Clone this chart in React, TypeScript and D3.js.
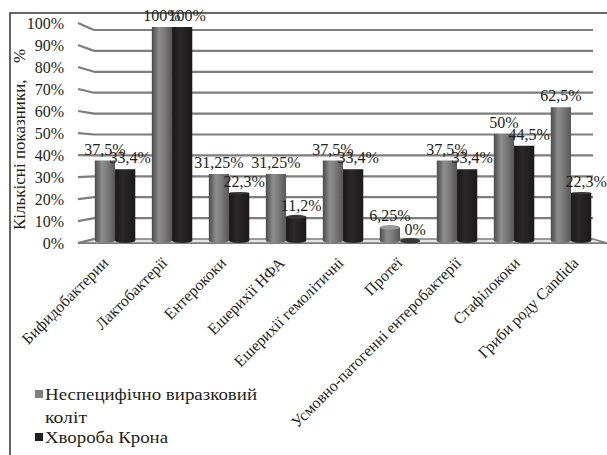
import React from "react";
import * as d3 from "d3";

const categories = [
  "Бифидобактерии",
  "Лактобактерії",
  "Ентерококи",
  "Ешерихії НФА",
  "Ешерихії гемолітичні",
  "Протеї",
  "Усмовно-патогенні ентеробактерії",
  "Стафілококи",
  "Гриби роду Candida",
];
const seriesNames = ["Неспецифічно виразковий коліт", "Хвороба Крона"];
const nvkValues = [37.5, 100, 31.25, 31.25, 37.5, 6.25, 37.5, 50, 62.5];
const crohnValues = [33.4, 100, 22.3, 11.2, 33.4, 0, 33.4, 44.5, 22.3];
const yTicks = [0, 10, 20, 30, 40, 50, 60, 70, 80, 90, 100];

const FONT = "Liberation Serif, DejaVu Serif, Times New Roman, serif";
const TXT = "#231f20";

// perspective
const VX = 360;
const VY = 162;
const FRONT_SX = 1.06;
const FRONT_SY = 1.053;
const BAR_SX = 1.028;
const BAR_SY = 1.022;

const px = (x: number, s: number) => VX + s * (x - VX);
const py = (y: number, s: number) => VY + s * (y - VY);

const fmt = (v: number) => String(v).replace(".", ",") + "%";

export default function App() {
  const W = 607;
  const H = 455;
  const backLeft = 94;
  const backRight = 593;
  const y = d3.scaleLinear().domain([0, 100]).range([239, 30]);
  const x0 = d3
    .scaleBand<number>()
    .domain(categories.map((_, i) => i))
    .range([backLeft, backRight])
    .paddingInner(0.29)
    .paddingOuter(0.145);
  const x1 = d3.scaleBand<number>().domain([0, 1]).range([0, x0.bandwidth()]).padding(0);
  const series = [nvkValues, crohnValues];

  const gridColor = "#7d7d7d";
  const ts = { fontFamily: FONT };

  const bars: React.ReactNode[] = [];
  const labels: React.ReactNode[] = [];
  categories.forEach((_, i) => {
    series.forEach((vals, s) => {
      const v = vals[i];
      const bx0 = x0(i)! + x1(s)!;
      const bx1 = bx0 + x1.bandwidth();
      const L = px(bx0, BAR_SX);
      const R = px(bx1, BAR_SX);
      const top = py(y(v), BAR_SY);
      const bot = py(y(0), BAR_SY);
      const rx = (R - L) / 2;
      const ryBot = 2.2;
      const ryTop = Math.max(0, (top - VY) * 0.035);
      const grad = s === 0 ? "url(#gGray)" : "url(#gBlack)";
      const d = `M${L},${top} L${L},${bot} A${rx},${ryBot} 0 0 0 ${R},${bot} L${R},${top} Z`;
      bars.push(<path key={`b${i}${s}`} d={d} fill={grad} />);
      if (ryTop > 0.6) {
        bars.push(
          <ellipse
            key={`t${i}${s}`}
            cx={(L + R) / 2}
            cy={top}
            rx={rx}
            ry={ryTop}
            fill={s === 0 ? "#9a9a9a" : "#3a3637"}
          />
        );
      }
      const cx = (L + R) / 2 + (s === 1 ? 5 : 0);
      labels.push(
        <text
          key={`l${i}${s}`}
          x={cx}
          y={top - 6}
          textAnchor="middle"
          style={ts}
          fontSize={16}
          fill={TXT}
        >
          {fmt(v)}
        </text>
      );
    });
  });

  const y0b = y(0);
  const floorFrontY = py(y0b, FRONT_SY);

  return (
    <svg width={W} height={H} style={{ position: "absolute", left: 0, top: 0 }}>
      <defs>
        <linearGradient id="gGray" x1="0" x2="1" y1="0" y2="0">
          <stop offset="0" stopColor="#4a4a4a" />
          <stop offset="0.35" stopColor="#8e8e8e" />
          <stop offset="0.6" stopColor="#7c7c7c" />
          <stop offset="1" stopColor="#575757" />
        </linearGradient>
        <linearGradient id="gBlack" x1="0" x2="1" y1="0" y2="0">
          <stop offset="0" stopColor="#1a1718" />
          <stop offset="0.4" stopColor="#2c2829" />
          <stop offset="1" stopColor="#1c191a" />
        </linearGradient>
      </defs>
      <rect x={0} y={0} width={W} height={H} fill="#fff" />
      {/* frame */}
      <path d={`M10,${H} L10,13 L${W},13`} fill="none" stroke="#333" strokeWidth={1.5} />

      {/* floor */}
      <path
        d={`M${backLeft},${y0b} L${backRight},${y0b} L${px(backRight, FRONT_SX)},${floorFrontY} L${px(
          backLeft,
          FRONT_SX
        )},${floorFrontY} Z`}
        fill="#e6e6e6"
        stroke={gridColor}
        strokeWidth={1.6}
      />

      {/* gridlines */}
      {yTicks.map((t) => {
        const yb = y(t);
        const yf = py(yb, FRONT_SY);
        const xf = px(backLeft, FRONT_SX);
        return (
          <g key={`g${t}`}>
            {t > 0 && (
              <line x1={backLeft} x2={backRight} y1={yb} y2={yb} stroke={gridColor} strokeWidth={2.2} />
            )}
            <line x1={xf} y1={yf} x2={backLeft} y2={yb} stroke={gridColor} strokeWidth={2.2} />
            <text
              x={64}
              y={yf}
              dy="0.35em"
              textAnchor="end"
              style={ts}
              fontSize={16}
              fill={TXT}
            >
              {t + "%"}
            </text>
          </g>
        );
      })}

      {bars}
      {labels}

      {/* y-axis title */}
      <text transform={`translate(25,230) rotate(-90)`} style={ts} fontSize={17} fill={TXT}>
        Кількісні показники,
      </text>
      <text transform={`translate(25,63) rotate(-90)`} style={ts} fontSize={17} fill={TXT}>
        %
      </text>

      {/* category labels */}
      {categories.map((c, i) => {
        const cx = x0(i)! + x0.bandwidth() / 2;
        const fx = px(cx, FRONT_SX) + 2;
        return (
          <text
            key={`c${i}`}
            transform={`translate(${fx},264) rotate(-45)`}
            textAnchor="end"
            style={ts}
            fontSize={16}
            fill={TXT}
          >
            {c}
          </text>
        );
      })}

      {/* legend */}
      <rect x={35} y={390} width={8} height={8} fill="#7f7f7f" />
      <text
        x={45}
        y={400}
        style={ts}
        fontSize={17.5}
        fill={TXT}
        textLength={212}
        lengthAdjust="spacingAndGlyphs"
      >
        Неспецифічно виразковий
      </text>
      <text x={45} y={423} style={ts} fontSize={17.5} fill={TXT} textLength={42} lengthAdjust="spacingAndGlyphs">
        коліт
      </text>
      <rect x={35} y={433} width={8} height={8} fill="#231f20" />
      <text x={45} y={443} style={ts} fontSize={17.5} fill={TXT} textLength={123} lengthAdjust="spacingAndGlyphs">
        {seriesNames[1]}
      </text>
    </svg>
  );
}
